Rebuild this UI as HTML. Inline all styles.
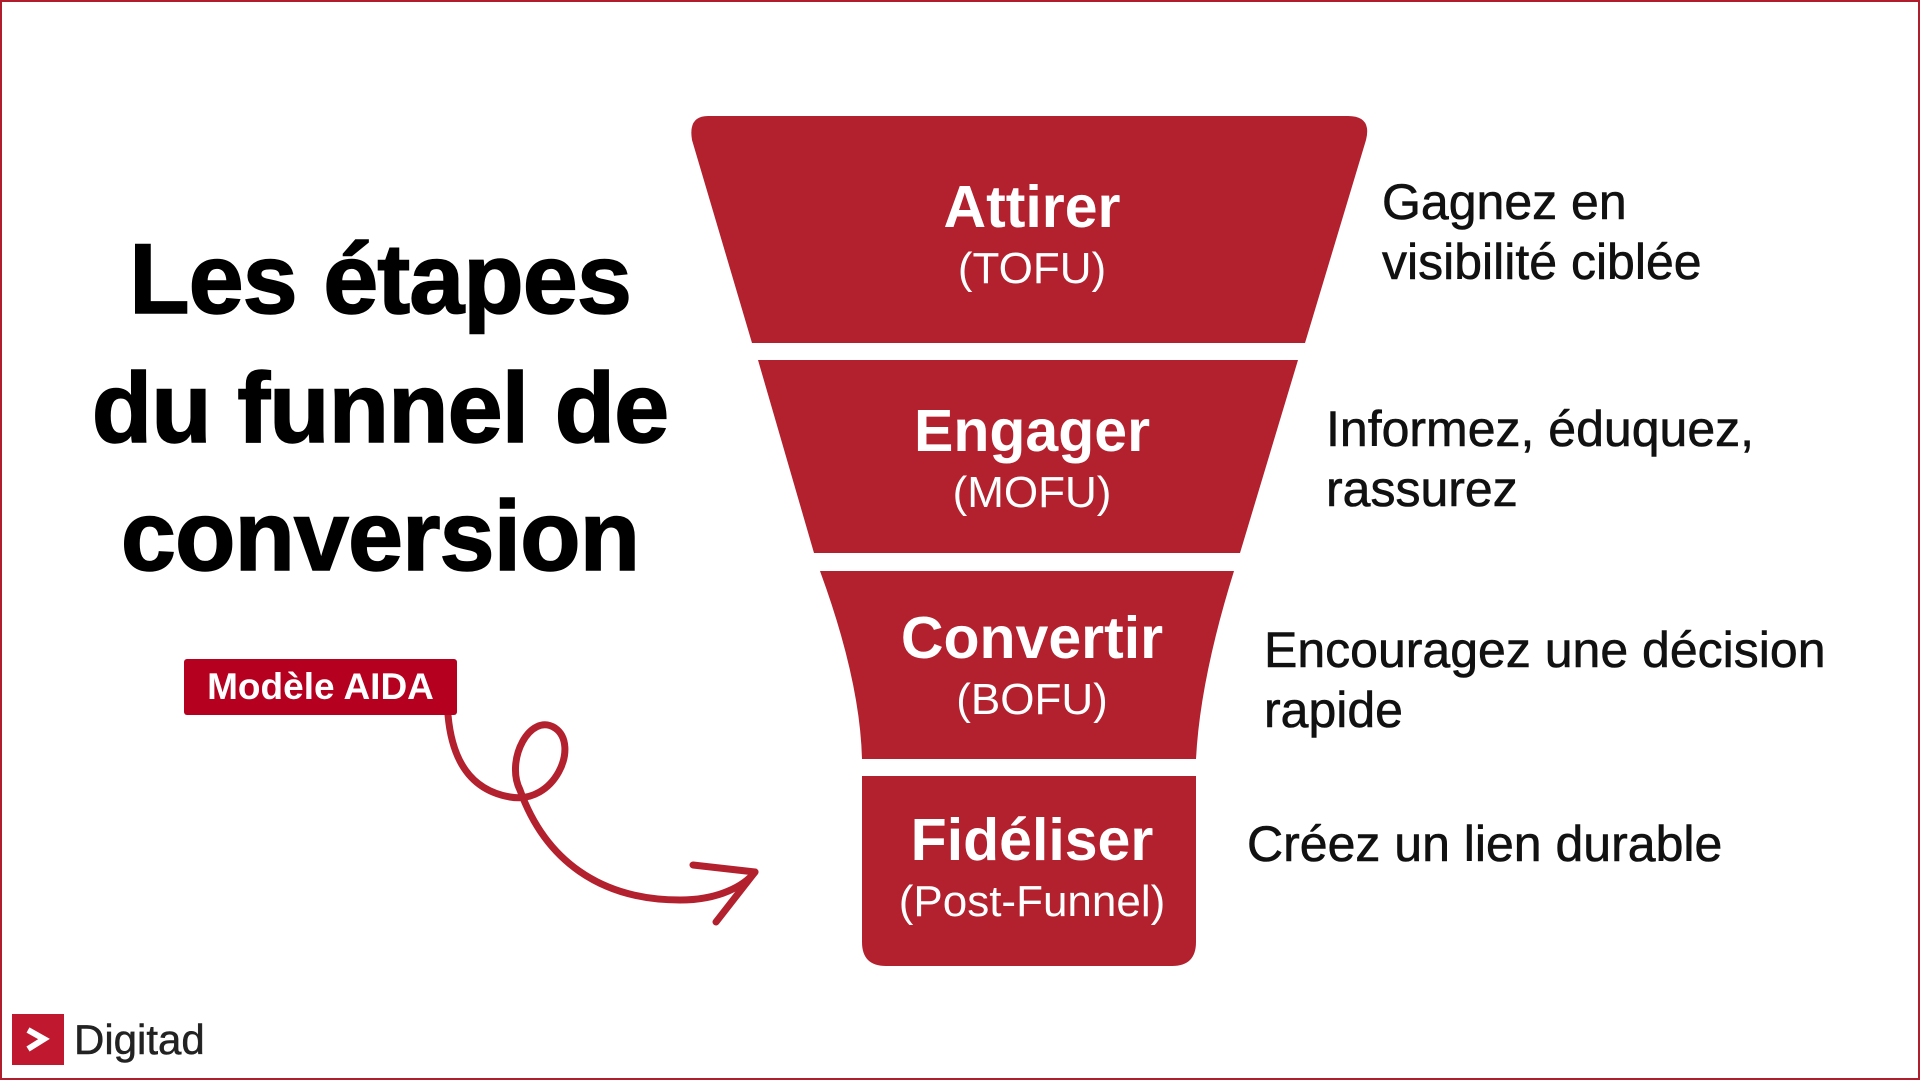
<!DOCTYPE html>
<html><head><meta charset="utf-8"><style>
html,body{margin:0;padding:0}
body{width:1920px;height:1080px;position:relative;background:#fff;overflow:hidden;font-family:"Liberation Sans",sans-serif}
.frame{position:absolute;left:0;top:0;width:1916px;height:1076px;border:2px solid #b01e2d}
.t{position:absolute;white-space:nowrap}
.title{left:0;width:760px;text-align:center;font-weight:bold;font-size:99px;color:#000;letter-spacing:-1px;-webkit-text-stroke:1.5px #000}
.fl{position:absolute;width:600px;left:732px;text-align:center;color:#fff}
.fl b{display:block;font-size:59px;font-weight:bold;line-height:66px}
.fl span{display:block;font-size:44px;line-height:58px}
.desc{position:absolute;font-size:50px;line-height:60px;color:#111;-webkit-text-stroke:0.6px #111}
</style></head><body>
<div class="frame"></div>
<svg width="1920" height="1080" style="position:absolute;left:0;top:0">
<path d="M708,116 L1348,116 Q1372,116 1366,140 L1305,343 L752,343 L692,140 Q688,116 708,116Z" fill="#b3202e"/>
<path d="M758,360 L1298,360 L1240,553 L814,553Z" fill="#b3202e"/>
<path d="M820,571 L1234,571 Q1200,680 1196,759 L862,759 Q860,680 820,571Z" fill="#b3202e"/>
<path d="M862,776 L1196,776 L1196,942 Q1196,966 1172,966 L886,966 Q862,966 862,942Z" fill="#b3202e"/>
<path d="M448,715 C452,760 470,790 510,797 C555,805 580,745 555,728 C530,712 505,760 520,790 C545,860 600,900 680,900 C720,900 745,885 755,872" fill="none" stroke="#b3202e" stroke-width="7" stroke-linecap="round"/>
<path d="M693,865 L755,872 L716,922" fill="none" stroke="#b3202e" stroke-width="7" stroke-linecap="round" stroke-linejoin="round"/>
<rect x="184" y="659" width="273" height="56" rx="3" fill="#b50020"/>
<rect x="12" y="1014" width="52" height="51" fill="#c0182e"/>
<path d="M28,1030 L44,1039 L28,1049" fill="none" stroke="#fff" stroke-width="6"/>
</svg>
<div class="t title" style="top:222px">Les étapes</div>
<div class="t title" style="top:351px">du funnel de</div>
<div class="t title" style="top:479px">conversion</div>
<div class="t" style="left:184px;top:659px;width:273px;height:56px;line-height:56px;text-align:center;color:#fff;font-weight:bold;font-size:37px">Modèle AIDA</div>
<div class="t" style="left:74px;top:1014px;font-size:42px;line-height:52px;color:#222;-webkit-text-stroke:0.5px #222">Digitad</div>
<div class="fl" style="top:174px"><b>Attirer</b><span>(TOFU)</span></div>
<div class="fl" style="top:398px"><b>Engager</b><span>(MOFU)</span></div>
<div class="fl" style="top:605px"><b>Convertir</b><span>(BOFU)</span></div>
<div class="fl" style="top:807px"><b>Fidéliser</b><span>(Post-Funnel)</span></div>
<div class="desc" style="left:1382px;top:172px">Gagnez en<br>visibilité ciblée</div>
<div class="desc" style="left:1326px;top:399px">Informez, éduquez,<br>rassurez</div>
<div class="desc" style="left:1264px;top:620px">Encouragez une décision<br>rapide</div>
<div class="desc" style="left:1247px;top:814px">Créez un lien durable</div>
</body></html>
